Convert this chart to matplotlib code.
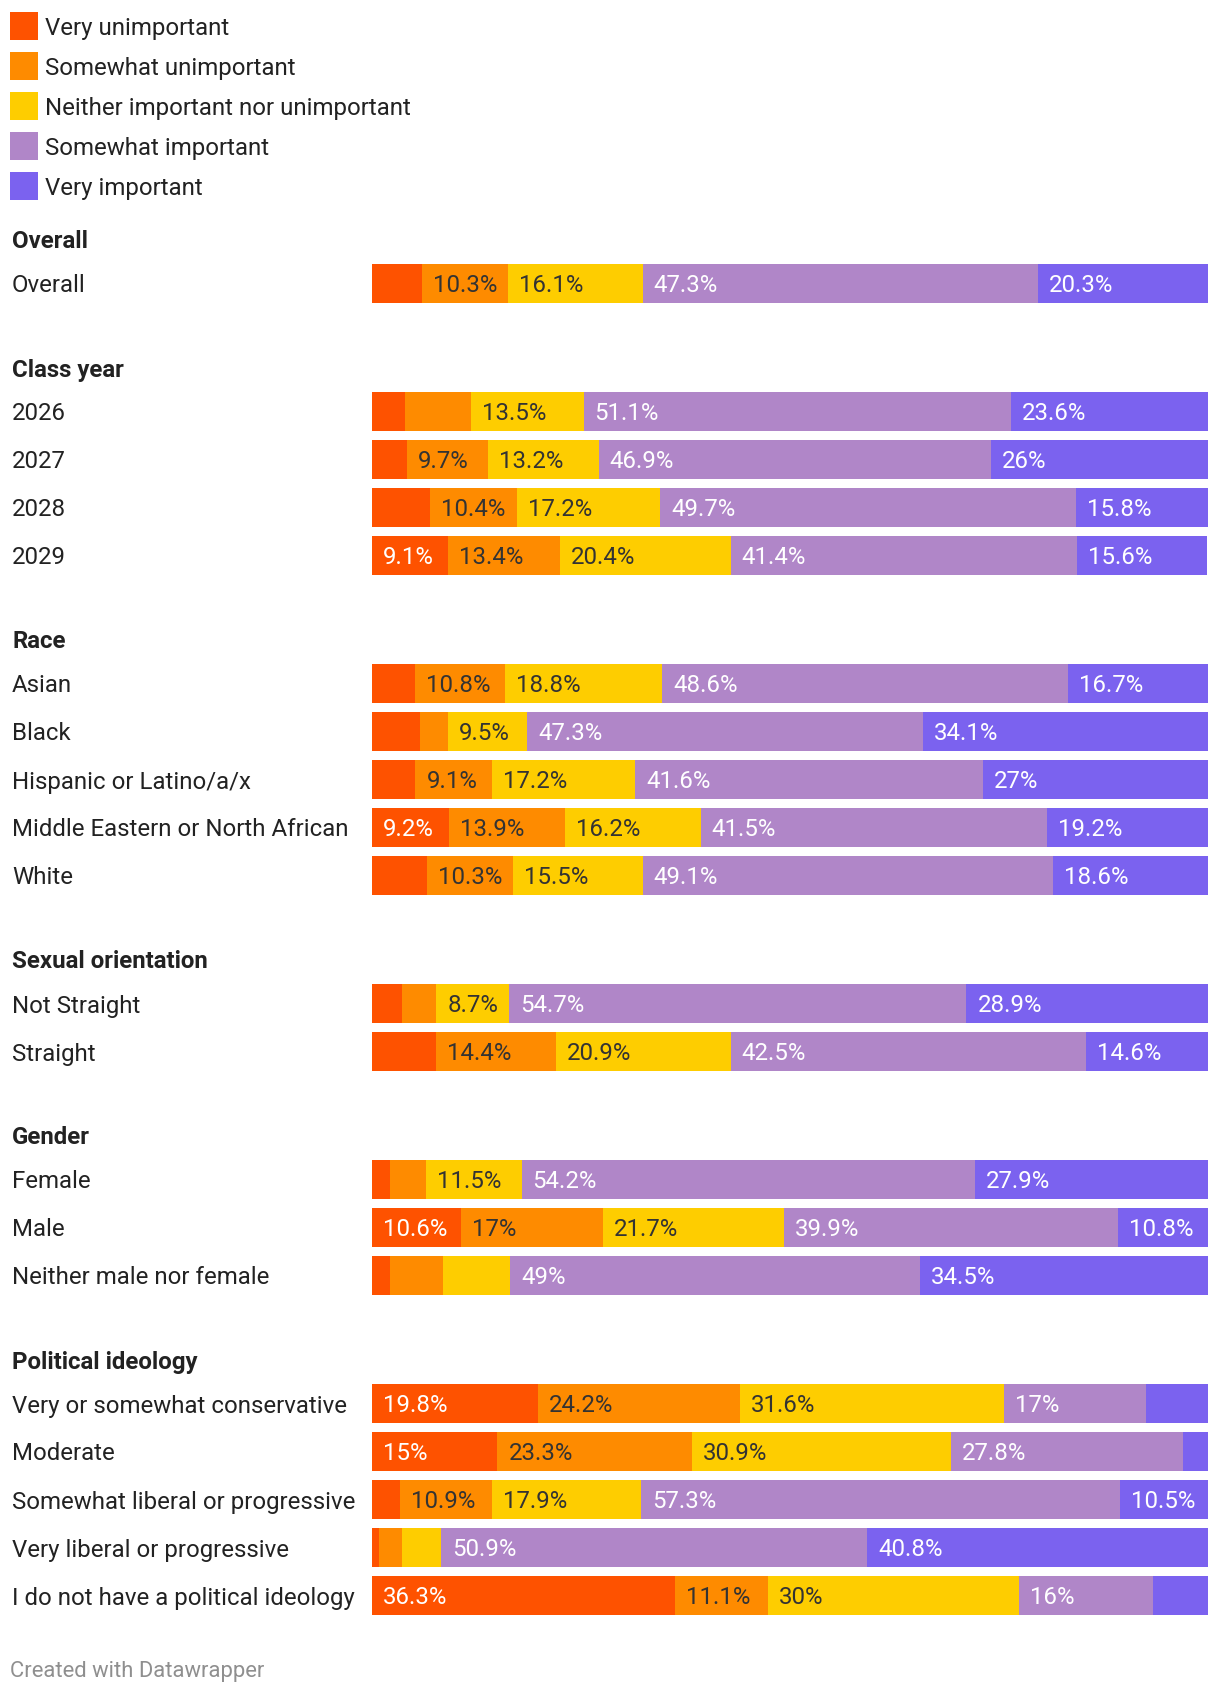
import matplotlib.pyplot as plt
import matplotlib.transforms as mtransforms
from matplotlib.patches import Rectangle

# Response categories and colours
responses = ["Very unimportant", "Somewhat unimportant", "Neither important nor unimportant",
             "Somewhat important", "Very important"]
colors = ["#fe5200", "#fe8b00", "#fecd00", "#b086c8", "#7b62ef"]
label_colors = ["white", "#333333", "#333333", "white", "white"]

# Groups and row labels
groups = ["Overall", "Class year", "Race", "Sexual orientation", "Gender", "Political ideology"]
group_rows = [
    ["Overall"],
    ["2026", "2027", "2028", "2029"],
    ["Asian", "Black", "Hispanic or Latino/a/x", "Middle Eastern or North African", "White"],
    ["Not Straight", "Straight"],
    ["Female", "Male", "Neither male nor female"],
    ["Very or somewhat conservative", "Moderate", "Somewhat liberal or progressive",
     "Very liberal or progressive", "I do not have a political ideology"],
]

# Shares (%) per response, one value per row in the order above
very_unimportant = [6.0, 4.0, 4.2, 6.9, 9.1, 5.1, 5.7, 5.2, 9.2, 6.6, 3.6, 7.6,
                    2.1, 10.6, 2.1, 19.8, 15, 3.4, 0.8, 36.3]
somewhat_unimportant = [10.3, 7.8, 9.7, 10.4, 13.4, 10.8, 3.4, 9.1, 13.9, 10.3, 4.1, 14.4,
                        4.3, 17, 6.4, 24.2, 23.3, 10.9, 2.8, 11.1]
neither = [16.1, 13.5, 13.2, 17.2, 20.4, 18.8, 9.5, 17.2, 16.2, 15.5, 8.7, 20.9,
           11.5, 21.7, 8.0, 31.6, 30.9, 17.9, 4.7, 30]
somewhat_important = [47.3, 51.1, 46.9, 49.7, 41.4, 48.6, 47.3, 41.6, 41.5, 49.1, 54.7, 42.5,
                      54.2, 39.9, 49, 17, 27.8, 57.3, 50.9, 16]
very_important = [20.3, 23.6, 26, 15.8, 15.6, 16.7, 34.1, 27, 19.2, 18.6, 28.9, 14.6,
                  27.9, 10.8, 34.5, 7.4, 3.0, 10.5, 40.8, 6.6]
series = [very_unimportant, somewhat_unimportant, neither, somewhat_important, very_important]

# Figure in pixel units
W, H = 1220, 1692
plt.rcParams["font.family"] = ["Roboto", "DejaVu Sans"]
fs = 17.3
fig = plt.figure(figsize=(W / 100, H / 100), dpi=100)

# overlay axes for legend / labels in pixel coordinates
bg = fig.add_axes([0, 0, 1, 1])
bg.set_xlim(0, W)
bg.set_ylim(H, 0)
bg.axis("off")

# bar axes: percentage x scale, pixel y scale
bar_left, bar_right = 372, 1208
ax = fig.add_axes([bar_left / W, 0, (bar_right - bar_left) / W, 1])
ax.set_xlim(0, 100)
ax.set_ylim(H, 0)
ax.axis("off")

# Legend
for i, (name, c) in enumerate(zip(responses, colors)):
    top = 12 + i * 40
    bg.add_patch(Rectangle((10, top), 28, 28, color=c, lw=0))
    bg.text(45, top + 14 + 8.5, name, fontsize=fs, color="#222222", va="baseline")

# Row positions
y_rows = []
row_names = []
header_y = 240
for g, rows in zip(groups, group_rows):
    bg.text(12, header_y + 8.5, g, fontsize=fs, fontweight="bold", color="#222222", va="baseline")
    for i, r in enumerate(rows):
        y_rows.append(header_y + 44 + i * 48)
        row_names.append(r)
    header_y = y_rows[-1] + 84

for y, r in zip(y_rows, row_names):
    bg.text(12, y + 8.5, r, fontsize=fs, color="#222222", va="baseline")

# Stacked bars
lefts = [0.0] * len(y_rows)
pad = 11 * 100 / (bar_right - bar_left)
for k, vals in enumerate(series):
    ax.barh(y_rows, vals, left=lefts, height=39, color=colors[k], linewidth=0)
    for y, l, v in zip(y_rows, lefts, vals):
        if v >= 8.5:
            ax.text(l + pad, y + 8.5, f"{v:g}%", fontsize=fs, color=label_colors[k],
                    va="baseline", ha="left")
    lefts = [l + v for l, v in zip(lefts, vals)]

bg.text(10, 1669 + 7.5, "Created with Datawrapper", fontsize=15.8, color="#8f8f8f", va="baseline")

fig.savefig("out.png", dpi=100)
